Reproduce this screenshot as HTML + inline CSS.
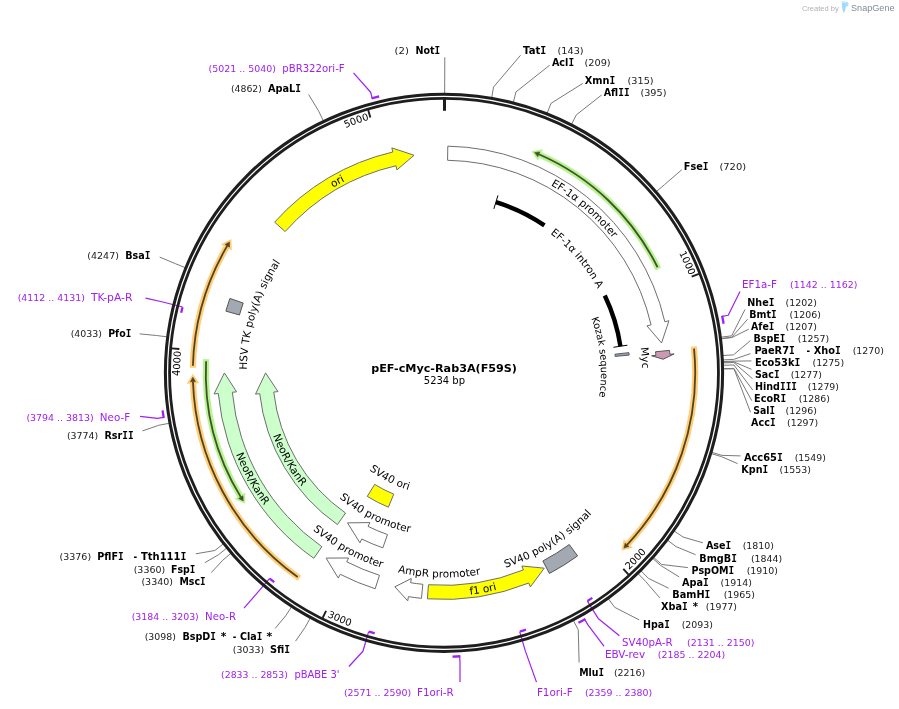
<!DOCTYPE html>
<html><head><meta charset="utf-8"><title>pEF-cMyc-Rab3A(F59S)</title>
<style>html,body{margin:0;padding:0;background:#fff}svg{display:block}</style></head>
<body>
<svg width="899" height="709" viewBox="0 0 899 709">
<rect width="899" height="709" fill="#fff"/>
<path d="M722.25 316.43 L728.23 315.22 L740 291.5" fill="none" stroke="#a020f0" stroke-width="1.2" stroke-linejoin="round"/>
<path d="M587.35 601.13 L598.19 618.41 L619.4 635.7" fill="none" stroke="#a020f0" stroke-width="1.2" stroke-linejoin="round"/>
<path d="M584.72 619.37 L587.74 624.67 L604.1 646.4" fill="none" stroke="#a020f0" stroke-width="1.2" stroke-linejoin="round"/>
<path d="M519.67 631.56 L525.4 651.14 L536.5 682.1" fill="none" stroke="#a020f0" stroke-width="1.2" stroke-linejoin="round"/>
<path d="M459.67 656.27 L460.01 662.36 L460 682" fill="none" stroke="#a020f0" stroke-width="1.2" stroke-linejoin="round"/>
<path d="M368.64 631.65 L362.94 651.24 L348.9 666.5" fill="none" stroke="#a020f0" stroke-width="1.2" stroke-linejoin="round"/>
<path d="M269.61 578.4 L256.41 593.96 L244 608.1" fill="none" stroke="#a020f0" stroke-width="1.2" stroke-linejoin="round"/>
<path d="M163.63 417.43 L157.61 418.39 L140 416.3" fill="none" stroke="#a020f0" stroke-width="1.2" stroke-linejoin="round"/>
<path d="M182.56 306.96 L162.78 301.98 L145.6 298.1" fill="none" stroke="#a020f0" stroke-width="1.2" stroke-linejoin="round"/>
<path d="M372.2 98.13 L370.65 92.23 L353.5 72.9" fill="none" stroke="#a020f0" stroke-width="1.2" stroke-linejoin="round"/>
<path d="M444.67 93.8 L444.7 82.8 L444.8 57.3" fill="none" stroke="#7a7a7a" stroke-width="1" stroke-linejoin="round"/>
<path d="M491.66 97.9 L493.54 87.06 L520.5 55.3" fill="none" stroke="#7a7a7a" stroke-width="1" stroke-linejoin="round"/>
<path d="M513.27 102.54 L516 91.88 L549.7 65.2" fill="none" stroke="#7a7a7a" stroke-width="1" stroke-linejoin="round"/>
<path d="M547.01 113.51 L551.07 103.29 L582.8 83.4" fill="none" stroke="#7a7a7a" stroke-width="1" stroke-linejoin="round"/>
<path d="M571.39 124.58 L576.42 114.8 L601.6 95" fill="none" stroke="#7a7a7a" stroke-width="1" stroke-linejoin="round"/>
<path d="M656.22 191.69 L664.59 184.55 L681.8 169.7" fill="none" stroke="#7a7a7a" stroke-width="1" stroke-linejoin="round"/>
<path d="M720.72 337.23 L731.63 335.82 L745 309.5" fill="none" stroke="#7a7a7a" stroke-width="1" stroke-linejoin="round"/>
<path d="M720.89 338.56 L731.81 337.21 L747.6 319.2" fill="none" stroke="#7a7a7a" stroke-width="1" stroke-linejoin="round"/>
<path d="M720.93 338.89 L731.85 337.55 L748.7 329.2" fill="none" stroke="#7a7a7a" stroke-width="1" stroke-linejoin="round"/>
<path d="M722.47 355.56 L733.45 354.88 L750.4 340.6" fill="none" stroke="#7a7a7a" stroke-width="1" stroke-linejoin="round"/>
<path d="M722.7 359.91 L733.69 359.4 L750.5 353.6" fill="none" stroke="#7a7a7a" stroke-width="1" stroke-linejoin="round"/>
<path d="M722.77 361.58 L733.77 361.14 L751.4 360.9" fill="none" stroke="#7a7a7a" stroke-width="1" stroke-linejoin="round"/>
<path d="M722.8 362.25 L733.79 361.84 L751.5 369.3" fill="none" stroke="#7a7a7a" stroke-width="1" stroke-linejoin="round"/>
<path d="M722.83 362.92 L733.82 362.53 L752.5 378.7" fill="none" stroke="#7a7a7a" stroke-width="1" stroke-linejoin="round"/>
<path d="M722.9 365.27 L733.89 364.97 L752.8 390.1" fill="none" stroke="#7a7a7a" stroke-width="1" stroke-linejoin="round"/>
<path d="M722.97 368.61 L733.97 368.45 L751.8 400.7" fill="none" stroke="#7a7a7a" stroke-width="1" stroke-linejoin="round"/>
<path d="M722.97 368.95 L733.97 368.8 L750.5 412.3" fill="none" stroke="#7a7a7a" stroke-width="1" stroke-linejoin="round"/>
<path d="M711.45 452.24 L722 455.37 L740.5 455.9" fill="none" stroke="#7a7a7a" stroke-width="1" stroke-linejoin="round"/>
<path d="M711.07 453.52 L721.6 456.7 L737.6 463.6" fill="none" stroke="#7a7a7a" stroke-width="1" stroke-linejoin="round"/>
<path d="M673.95 530.8 L683.01 537.03 L702.9 542.8" fill="none" stroke="#7a7a7a" stroke-width="1" stroke-linejoin="round"/>
<path d="M667.31 540.05 L676.11 546.65 L695.6 554.7" fill="none" stroke="#7a7a7a" stroke-width="1" stroke-linejoin="round"/>
<path d="M653.37 557.2 L661.63 564.47 L687.9 567.6" fill="none" stroke="#7a7a7a" stroke-width="1" stroke-linejoin="round"/>
<path d="M652.48 558.21 L660.7 565.52 L679.2 576.9" fill="none" stroke="#7a7a7a" stroke-width="1" stroke-linejoin="round"/>
<path d="M640.75 570.61 L648.51 578.41 L668.6 588.2" fill="none" stroke="#7a7a7a" stroke-width="1" stroke-linejoin="round"/>
<path d="M637.88 573.43 L645.52 581.34 L659.8 597.9" fill="none" stroke="#7a7a7a" stroke-width="1" stroke-linejoin="round"/>
<path d="M608.15 598.4 L614.63 607.29 L639.2 619.9" fill="none" stroke="#7a7a7a" stroke-width="1" stroke-linejoin="round"/>
<path d="M573.18 620.09 L578.27 629.84 L579.1 662.5" fill="none" stroke="#7a7a7a" stroke-width="1" stroke-linejoin="round"/>
<path d="M310.39 617.73 L305.12 627.38 L295.5 641.2" fill="none" stroke="#7a7a7a" stroke-width="1" stroke-linejoin="round"/>
<path d="M291.7 606.57 L285.7 615.78 L275.2 628.4" fill="none" stroke="#7a7a7a" stroke-width="1" stroke-linejoin="round"/>
<path d="M231.13 553.15 L222.73 560.26 L211.2 572.7" fill="none" stroke="#7a7a7a" stroke-width="1" stroke-linejoin="round"/>
<path d="M226.86 547.99 L218.3 554.89 L204.8 562.7" fill="none" stroke="#7a7a7a" stroke-width="1" stroke-linejoin="round"/>
<path d="M223.53 543.78 L214.84 550.52 L195.8 553.8" fill="none" stroke="#7a7a7a" stroke-width="1" stroke-linejoin="round"/>
<path d="M169.6 423.26 L158.78 425.25 L142.5 430.9" fill="none" stroke="#7a7a7a" stroke-width="1" stroke-linejoin="round"/>
<path d="M167.32 336.9 L156.41 335.48 L139.7 333.9" fill="none" stroke="#7a7a7a" stroke-width="1" stroke-linejoin="round"/>
<path d="M185.52 267.77 L175.33 263.63 L159.7 257.1" fill="none" stroke="#7a7a7a" stroke-width="1" stroke-linejoin="round"/>
<path d="M323.51 121.16 L318.76 111.24 L308.6 94.5" fill="none" stroke="#7a7a7a" stroke-width="1" stroke-linejoin="round"/>
<path d="M447.81 146.18A226.65 226.65 0 0 1 664.82 321.72L668.96 320.76L661.56 342.97L646.94 325.85L651.08 324.9A212.55 212.55 0 0 0 447.57 160.28Z" fill="#fff" stroke="#6e6e6e" stroke-width="1" stroke-linejoin="miter"/>
<path d="M495.92 202.12 A178.4 178.4 0 0 1 544.41 225.34" fill="none" stroke="#000" stroke-width="4.4"/>
<path d="M604.77 295.46 A178.4 178.4 0 0 1 620.41 346.24" fill="none" stroke="#000" stroke-width="4.4"/>
<path d="M493.87 208.87 L497.97 195.38" stroke="#000" stroke-width="1"/>
<path d="M613.44 347.29 L627.38 345.19" stroke="#000" stroke-width="1"/>
<path d="M628.95 352.63A186.05 186.05 0 0 1 629.2 355.07L615.17 356.41A171.95 171.95 0 0 0 614.94 354.16Z" fill="#9aa1ab" stroke="#4a4f55" stroke-width="0.9" stroke-linejoin="miter"/>
<path d="M669.54 350.39A226.65 226.65 0 0 1 669.89 354.25L674.13 353.91L663.18 359.23L651.6 355.76L655.84 355.41A212.55 212.55 0 0 0 655.51 351.78Z" fill="#cc99b3" stroke="#555" stroke-width="1" stroke-linejoin="miter"/>
<path d="M693.82 346.47A251.2 251.2 0 0 1 627.08 544.79" fill="none" stroke="#ffce78" stroke-width="6.2"/>
<path d="M632.86 547.83L621.51 550.54L623.62 539.27Z" fill="#ffce78"/>
<path d="M694.03 348.56A251.2 251.2 0 0 1 627.08 544.79" fill="none" stroke="#55421f" stroke-width="1.8"/>
<path d="M628.98 546.57L623.9 548.12L625.19 543.01Z" fill="#55421f" stroke="#55421f" stroke-width="0.5" stroke-linejoin="miter"/>
<path d="M658.45 269.11A238.2 238.2 0 0 0 538.83 154.29" fill="none" stroke="#b6f490" stroke-width="6.2"/>
<path d="M542.94 149.21L531.44 151.23L537.84 160.73Z" fill="#b6f490"/>
<path d="M657.53 267.23A238.2 238.2 0 0 0 538.83 154.29" fill="none" stroke="#41522a" stroke-width="1.8"/>
<path d="M539.87 151.91L534.59 152.5L537.8 156.68Z" fill="#41522a" stroke="#41522a" stroke-width="0.5" stroke-linejoin="miter"/>
<path d="M577.57 555.91A226.65 226.65 0 0 1 549.42 573.44L542.86 560.96A212.55 212.55 0 0 0 569.26 544.52Z" fill="#a3a9b3" stroke="#555" stroke-width="1" stroke-linejoin="miter"/>
<path d="M427.42 598.84A226.65 226.65 0 0 0 528.72 583.02L530.31 586.96L544.27 568.17L521.86 566L523.45 569.94A212.55 212.55 0 0 1 428.45 584.78Z" fill="#ffff00" stroke="#6e6e6e" stroke-width="1" stroke-linejoin="miter"/>
<path d="M421.45 598.33A226.65 226.65 0 0 1 408.42 596.64L407.76 600.84L394.86 586.83L411.3 578.52L410.64 582.72A212.55 212.55 0 0 0 422.86 584.3Z" fill="#fff" stroke="#6e6e6e" stroke-width="1" stroke-linejoin="miter"/>
<path d="M375.18 588.75A226.65 226.65 0 0 1 340.24 574.3L338.29 578.08L326.12 558.08L348.64 557.99L346.69 561.77A212.55 212.55 0 0 0 379.46 575.31Z" fill="#fff" stroke="#6e6e6e" stroke-width="1" stroke-linejoin="miter"/>
<path d="M382.83 547.87A185.45 185.45 0 0 1 361.78 539.03L359.9 542.84L347.52 522.86L369.92 522.58L368.04 526.39A171.35 171.35 0 0 0 387.48 534.56Z" fill="#fff" stroke="#6e6e6e" stroke-width="1" stroke-linejoin="miter"/>
<path d="M388.36 507.19A145.45 145.45 0 0 1 367.26 496.36L374.7 484.38A131.35 131.35 0 0 0 393.75 494.16Z" fill="#ffff00" stroke="#6e6e6e" stroke-width="1" stroke-linejoin="miter"/>
<path d="M313.75 558.28A226.65 226.65 0 0 1 218.3 393.55L214.07 393.94L224.4 372.93L236.57 391.87L232.34 392.26A212.55 212.55 0 0 0 321.85 546.74Z" fill="#ccffcc" stroke="#6e6e6e" stroke-width="1" stroke-linejoin="miter"/>
<path d="M337.42 524.57A185.45 185.45 0 0 1 259.73 393.66L255.5 394.14L265.6 372.91L277.96 391.59L273.74 392.07A171.35 171.35 0 0 0 345.53 513.03Z" fill="#ccffcc" stroke="#6e6e6e" stroke-width="1" stroke-linejoin="miter"/>
<path d="M299.38 578.19A251.2 251.2 0 0 1 192.96 381.77" fill="none" stroke="#ffce78" stroke-width="6.2"/>
<path d="M186.73 383.74L192.8 373.77L199.32 383.2Z" fill="#ffce78"/>
<path d="M297.67 576.98A251.2 251.2 0 0 1 192.96 381.77" fill="none" stroke="#55421f" stroke-width="1.8"/>
<path d="M190.36 381.86L192.84 377.17L195.56 381.68Z" fill="#55421f" stroke="#55421f" stroke-width="0.5" stroke-linejoin="miter"/>
<path d="M206.19 359.13A238.2 238.2 0 0 0 240.82 497.12" fill="none" stroke="#b6f490" stroke-width="6.2"/>
<path d="M234.54 498.92L245.11 503.87L245.33 492.42Z" fill="#b6f490"/>
<path d="M206.08 361.22A238.2 238.2 0 0 0 240.82 497.12" fill="none" stroke="#41522a" stroke-width="1.8"/>
<path d="M238.6 498.48L243.26 501.02L243.04 495.77Z" fill="#41522a" stroke="#41522a" stroke-width="0.5" stroke-linejoin="miter"/>
<path d="M192.85 367.81A251.2 251.2 0 0 1 227.22 245.88" fill="none" stroke="#ffce78" stroke-width="6.2"/>
<path d="M220.91 244.2L231.38 239.04L231.83 250.49Z" fill="#ffce78"/>
<path d="M192.9 365.71A251.2 251.2 0 0 1 227.22 245.88" fill="none" stroke="#55421f" stroke-width="1.8"/>
<path d="M224.98 244.56L229.58 241.93L229.47 247.19Z" fill="#55421f" stroke="#55421f" stroke-width="0.5" stroke-linejoin="miter"/>
<path d="M225.9 311.14A226.65 226.65 0 0 1 229.9 298.43L243.22 303.06A212.55 212.55 0 0 0 239.47 314.98Z" fill="#a3a9b3" stroke="#555" stroke-width="1" stroke-linejoin="miter"/>
<path d="M274.63 222.18A226.65 226.65 0 0 1 392.79 152.01L391.83 147.87L414.04 155.25L396.93 169.89L395.97 165.75A212.55 212.55 0 0 0 285.17 231.55Z" fill="#ffff00" stroke="#6e6e6e" stroke-width="1" stroke-linejoin="miter"/>
<circle cx="444" cy="372.8" r="278.6" fill="none" stroke="#1e1e1e" stroke-width="3.05"/>
<circle cx="444" cy="372.8" r="274.45" fill="none" stroke="#1e1e1e" stroke-width="2.8"/>
<path d="M444.5 98 L444.5 110.8" stroke="#1e1e1e" stroke-width="3"/>
<path d="M698.96 273.81 L691.69 276.63" stroke="#1e1e1e" stroke-width="1.9"/>
<path d="M628.56 574.65 L623.29 568.89" stroke="#1e1e1e" stroke-width="1.9"/>
<path d="M322.64 617.9 L326.1 610.91" stroke="#1e1e1e" stroke-width="1.9"/>
<path d="M171.59 348.37 L179.36 349.07" stroke="#1e1e1e" stroke-width="1.9"/>
<path d="M368.18 110.02 L370.34 117.51" stroke="#1e1e1e" stroke-width="1.9"/>
<path d="M722.11 315.75 A283.9 283.9 0 0 1 723.64 323.82" fill="none" stroke="#a020f0" stroke-width="2.3"/>
<path d="M592.35 597.91 A269.6 269.6 0 0 1 587.52 601.03" fill="none" stroke="#a020f0" stroke-width="2.3"/>
<path d="M585.33 619.02 A283.9 283.9 0 0 1 578.44 622.85" fill="none" stroke="#a020f0" stroke-width="2.3"/>
<path d="M525.98 629.63 A269.6 269.6 0 0 1 519.86 631.51" fill="none" stroke="#a020f0" stroke-width="2.3"/>
<path d="M460.37 656.23 A283.9 283.9 0 0 1 452.5 656.57" fill="none" stroke="#a020f0" stroke-width="2.3"/>
<path d="M374.68 633.34 A269.6 269.6 0 0 1 368.83 631.71" fill="none" stroke="#a020f0" stroke-width="2.3"/>
<path d="M274.18 582.2 A269.6 269.6 0 0 1 269.76 578.53" fill="none" stroke="#a020f0" stroke-width="2.3"/>
<path d="M163.74 418.12 A283.9 283.9 0 0 1 162.59 410.33" fill="none" stroke="#a020f0" stroke-width="2.3"/>
<path d="M181.17 312.75 A269.6 269.6 0 0 1 182.51 307.16" fill="none" stroke="#a020f0" stroke-width="2.3"/>
<path d="M371.52 98.31 A283.9 283.9 0 0 1 379.16 96.4" fill="none" stroke="#a020f0" stroke-width="2.3"/>
<path id="tk1" d="M672.85 241.38A263.9 263.9 0 0 1 689.35 275.62" fill="none"/>
<text font-family="'DejaVu Sans','Liberation Sans',sans-serif" font-size="9.8" fill="#000"><textPath href="#tk1" startOffset="100%" text-anchor="end">1000</textPath></text>
<path id="tk2" d="M629.08 570.07A270.5 270.5 0 0 0 654.47 542.71" fill="none"/>
<text font-family="'DejaVu Sans','Liberation Sans',sans-serif" font-size="9.8" fill="#000"><textPath href="#tk2" startOffset="0%" text-anchor="start">2000</textPath></text>
<path id="tk3" d="M327.09 616.73A270.5 270.5 0 0 0 361.78 630.5" fill="none"/>
<text font-family="'DejaVu Sans','Liberation Sans',sans-serif" font-size="9.8" fill="#000"><textPath href="#tk3" startOffset="0%" text-anchor="start">3000</textPath></text>
<path id="tk4" d="M180.6 389.02A263.9 263.9 0 0 1 181 351.02" fill="none"/>
<text font-family="'DejaVu Sans','Liberation Sans',sans-serif" font-size="9.8" fill="#000"><textPath href="#tk4" startOffset="100%" text-anchor="end">4000</textPath></text>
<path id="tk5" d="M333.54 133.13A263.9 263.9 0 0 1 369.12 119.75" fill="none"/>
<text font-family="'DejaVu Sans','Liberation Sans',sans-serif" font-size="9.8" fill="#000"><textPath href="#tk5" startOffset="100%" text-anchor="end">5000</textPath></text>
<path id="tp6" d="M483.63 160.65A215.82 215.82 0 0 1 647.54 301.04" fill="none" stroke="none"/>
<text font-family="'DejaVu Sans','Liberation Sans',sans-serif" font-size="10.5" font-weight="normal" fill="#000"><textPath href="#tp6" startOffset="50%" text-anchor="middle">EF-1α promoter</textPath></text>
<path id="tp7" d="M502.15 207.54A175.19 175.19 0 0 1 616.19 340.53" fill="none" stroke="none"/>
<text font-family="'DejaVu Sans','Liberation Sans',sans-serif" font-size="10.3" font-weight="normal" fill="#000"><textPath href="#tp7" startOffset="50%" text-anchor="middle">EF-1α intron A</textPath></text>
<path id="tp8" d="M571.38 281.13A156.94 156.94 0 0 1 587.08 437.27" fill="none" stroke="none"/>
<text font-family="'DejaVu Sans','Liberation Sans',sans-serif" font-size="9.9" font-weight="normal" fill="#000"><textPath href="#tp8" startOffset="50%" text-anchor="middle">Kozak sequence</textPath></text>
<path id="tp9" d="M607.75 261.1A198.22 198.22 0 0 1 622.61 458.76" fill="none" stroke="none"/>
<text font-family="'DejaVu Sans','Liberation Sans',sans-serif" font-size="10.5" font-weight="normal" fill="#000"><textPath href="#tp9" startOffset="50%" text-anchor="middle">Myc</textPath></text>
<path id="tp10" d="M450.82 576.97A204.28 204.28 0 0 0 624.23 468.97" fill="none" stroke="none"/>
<text font-family="'DejaVu Sans','Liberation Sans',sans-serif" font-size="10.5" font-weight="normal" fill="#000"><textPath href="#tp10" startOffset="50%" text-anchor="middle">SV40 poly(A) signal</textPath></text>
<path id="tp11" d="M368.26 582.95A223.38 223.38 0 0 0 588.12 543.47" fill="none" stroke="none"/>
<text font-family="'DejaVu Sans','Liberation Sans',sans-serif" font-size="10.5" font-weight="normal" fill="#000"><textPath href="#tp11" startOffset="50%" text-anchor="middle">f1 ori</textPath></text>
<path id="tp12" d="M337.38 547.64A204.78 204.78 0 0 0 542.1 552.55" fill="none" stroke="none"/>
<text font-family="'DejaVu Sans','Liberation Sans',sans-serif" font-size="10.5" font-weight="normal" fill="#000"><textPath href="#tp12" startOffset="50%" text-anchor="middle">AmpR promoter</textPath></text>
<path id="tp13" d="M268.93 479.03A204.78 204.78 0 0 0 448.47 577.53" fill="none" stroke="none"/>
<text font-family="'DejaVu Sans','Liberation Sans',sans-serif" font-size="10.5" font-weight="normal" fill="#000"><textPath href="#tp13" startOffset="50%" text-anchor="middle">SV40 promoter</textPath></text>
<path id="tp14" d="M308.64 464.11A163.28 163.28 0 0 0 455.39 535.68" fill="none" stroke="none"/>
<text font-family="'DejaVu Sans','Liberation Sans',sans-serif" font-size="10.5" font-weight="normal" fill="#000"><textPath href="#tp14" startOffset="50%" text-anchor="middle">SV40 promoter</textPath></text>
<path id="tp15" d="M341.08 439.2A122.48 122.48 0 0 0 450.05 495.13" fill="none" stroke="none"/>
<text font-family="'DejaVu Sans','Liberation Sans',sans-serif" font-size="10.5" font-weight="normal" fill="#000"><textPath href="#tp15" startOffset="50%" text-anchor="middle">SV40 ori</textPath></text>
<path id="tp16" d="M220.66 368.6A223.38 223.38 0 0 0 328.69 564.12" fill="none" stroke="none"/>
<text font-family="'DejaVu Sans','Liberation Sans',sans-serif" font-size="10.5" font-weight="normal" fill="#000"><textPath href="#tp16" startOffset="50%" text-anchor="middle">NeoR/KanR</textPath></text>
<path id="tp17" d="M261.83 370.9A182.18 182.18 0 0 0 351.27 529.62" fill="none" stroke="none"/>
<text font-family="'DejaVu Sans','Liberation Sans',sans-serif" font-size="10.5" font-weight="normal" fill="#000"><textPath href="#tp17" startOffset="50%" text-anchor="middle">NeoR/KanR</textPath></text>
<path id="tp18" d="M251.5 415.7A197.22 197.22 0 0 1 310.6 227.54" fill="none" stroke="none"/>
<text font-family="'DejaVu Sans','Liberation Sans',sans-serif" font-size="10.5" font-weight="normal" fill="#000"><textPath href="#tp18" startOffset="50%" text-anchor="middle">HSV TK poly(A) signal</textPath></text>
<path id="tp19" d="M258.69 262.17A215.82 215.82 0 0 1 447.15 157" fill="none" stroke="none"/>
<text font-family="'DejaVu Sans','Liberation Sans',sans-serif" font-size="10.5" font-weight="normal" fill="#000"><textPath href="#tp19" startOffset="50%" text-anchor="middle">ori</textPath></text>
<text x="394.6" y="53.9" font-family="'DejaVu Sans','Liberation Sans',sans-serif" font-size="8.9" font-weight="normal" fill="#1a1a1a" textLength="14.4" lengthAdjust="spacingAndGlyphs">(2)</text>
<text x="415.4" y="53.9" font-family="'DejaVu Sans','Liberation Sans',sans-serif" font-size="10.2" font-weight="bold" fill="#000" textLength="24.8" lengthAdjust="spacingAndGlyphs">Not<tspan font-family="'DejaVu Sans Mono','Liberation Mono',monospace" font-size="10">I</tspan></text>
<text x="523.1" y="53.9" font-family="'DejaVu Sans','Liberation Sans',sans-serif" font-size="10.2" font-weight="bold" fill="#000" textLength="23.2" lengthAdjust="spacingAndGlyphs">Tat<tspan font-family="'DejaVu Sans Mono','Liberation Mono',monospace" font-size="10">I</tspan></text>
<text x="557.5" y="53.9" font-family="'DejaVu Sans','Liberation Sans',sans-serif" font-size="8.9" font-weight="normal" fill="#1a1a1a" textLength="26.1" lengthAdjust="spacingAndGlyphs">(143)</text>
<text x="551.9" y="66" font-family="'DejaVu Sans','Liberation Sans',sans-serif" font-size="10.2" font-weight="bold" fill="#000" textLength="22.2" lengthAdjust="spacingAndGlyphs">Acl<tspan font-family="'DejaVu Sans Mono','Liberation Mono',monospace" font-size="10">I</tspan></text>
<text x="584.4" y="66" font-family="'DejaVu Sans','Liberation Sans',sans-serif" font-size="8.9" font-weight="normal" fill="#1a1a1a" textLength="26.3" lengthAdjust="spacingAndGlyphs">(209)</text>
<text x="584.8" y="84" font-family="'DejaVu Sans','Liberation Sans',sans-serif" font-size="10.2" font-weight="bold" fill="#000" textLength="30.6" lengthAdjust="spacingAndGlyphs">Xmn<tspan font-family="'DejaVu Sans Mono','Liberation Mono',monospace" font-size="10">I</tspan></text>
<text x="627.5" y="84" font-family="'DejaVu Sans','Liberation Sans',sans-serif" font-size="8.9" font-weight="normal" fill="#1a1a1a" textLength="26.1" lengthAdjust="spacingAndGlyphs">(315)</text>
<text x="603.7" y="96" font-family="'DejaVu Sans','Liberation Sans',sans-serif" font-size="10.2" font-weight="bold" fill="#000" textLength="25.9" lengthAdjust="spacingAndGlyphs">Afl<tspan font-family="'DejaVu Sans Mono','Liberation Mono',monospace" font-size="10">I</tspan><tspan font-family="'DejaVu Sans Mono','Liberation Mono',monospace" font-size="10">I</tspan></text>
<text x="640.4" y="96" font-family="'DejaVu Sans','Liberation Sans',sans-serif" font-size="8.9" font-weight="normal" fill="#1a1a1a" textLength="26.1" lengthAdjust="spacingAndGlyphs">(395)</text>
<text x="683.8" y="169.8" font-family="'DejaVu Sans','Liberation Sans',sans-serif" font-size="10.2" font-weight="bold" fill="#000" textLength="24.8" lengthAdjust="spacingAndGlyphs">Fse<tspan font-family="'DejaVu Sans Mono','Liberation Mono',monospace" font-size="10">I</tspan></text>
<text x="719.4" y="169.8" font-family="'DejaVu Sans','Liberation Sans',sans-serif" font-size="8.9" font-weight="normal" fill="#1a1a1a" textLength="26.8" lengthAdjust="spacingAndGlyphs">(720)</text>
<text x="742" y="287.9" font-family="'DejaVu Sans Condensed','DejaVu Sans','Liberation Sans',sans-serif" font-size="10.6" font-weight="normal" fill="#a020f0" textLength="34.8" lengthAdjust="spacingAndGlyphs">EF1a-F</text>
<text x="790" y="287.9" font-family="'DejaVu Sans','Liberation Sans',sans-serif" font-size="8.9" font-weight="normal" fill="#a020f0" textLength="67.4" lengthAdjust="spacingAndGlyphs">(1142 .. 1162)</text>
<text x="747.3" y="305.6" font-family="'DejaVu Sans','Liberation Sans',sans-serif" font-size="10.2" font-weight="bold" fill="#000" textLength="27.1" lengthAdjust="spacingAndGlyphs">Nhe<tspan font-family="'DejaVu Sans Mono','Liberation Mono',monospace" font-size="10">I</tspan></text>
<text x="785.6" y="305.6" font-family="'DejaVu Sans','Liberation Sans',sans-serif" font-size="8.9" font-weight="normal" fill="#1a1a1a" textLength="31.3" lengthAdjust="spacingAndGlyphs">(1202)</text>
<text x="749.3" y="317.6" font-family="'DejaVu Sans','Liberation Sans',sans-serif" font-size="10.2" font-weight="bold" fill="#000" textLength="27.4" lengthAdjust="spacingAndGlyphs">Bmt<tspan font-family="'DejaVu Sans Mono','Liberation Mono',monospace" font-size="10">I</tspan></text>
<text x="789.6" y="317.6" font-family="'DejaVu Sans','Liberation Sans',sans-serif" font-size="8.9" font-weight="normal" fill="#1a1a1a" textLength="31.3" lengthAdjust="spacingAndGlyphs">(1206)</text>
<text x="751.1" y="329.7" font-family="'DejaVu Sans','Liberation Sans',sans-serif" font-size="10.2" font-weight="bold" fill="#000" textLength="23.3" lengthAdjust="spacingAndGlyphs">Afe<tspan font-family="'DejaVu Sans Mono','Liberation Mono',monospace" font-size="10">I</tspan></text>
<text x="785.6" y="329.7" font-family="'DejaVu Sans','Liberation Sans',sans-serif" font-size="8.9" font-weight="normal" fill="#1a1a1a" textLength="31.3" lengthAdjust="spacingAndGlyphs">(1207)</text>
<text x="753.5" y="341.7" font-family="'DejaVu Sans','Liberation Sans',sans-serif" font-size="10.2" font-weight="bold" fill="#000" textLength="32" lengthAdjust="spacingAndGlyphs">BspE<tspan font-family="'DejaVu Sans Mono','Liberation Mono',monospace" font-size="10">I</tspan></text>
<text x="797.8" y="341.7" font-family="'DejaVu Sans','Liberation Sans',sans-serif" font-size="8.9" font-weight="normal" fill="#1a1a1a" textLength="31.3" lengthAdjust="spacingAndGlyphs">(1257)</text>
<text x="754.4" y="353.7" font-family="'DejaVu Sans','Liberation Sans',sans-serif" font-size="10.2" font-weight="bold" fill="#000" textLength="40.4" lengthAdjust="spacingAndGlyphs">PaeR7<tspan font-family="'DejaVu Sans Mono','Liberation Mono',monospace" font-size="10">I</tspan></text>
<text x="806.6" y="353.7" font-family="'DejaVu Sans','Liberation Sans',sans-serif" font-size="10.2" font-weight="bold" fill="#000" textLength="3.6" lengthAdjust="spacingAndGlyphs">-</text>
<text x="813.7" y="353.7" font-family="'DejaVu Sans','Liberation Sans',sans-serif" font-size="10.2" font-weight="bold" fill="#000" textLength="27.1" lengthAdjust="spacingAndGlyphs">Xho<tspan font-family="'DejaVu Sans Mono','Liberation Mono',monospace" font-size="10">I</tspan></text>
<text x="852.7" y="353.7" font-family="'DejaVu Sans','Liberation Sans',sans-serif" font-size="8.9" font-weight="normal" fill="#1a1a1a" textLength="31.3" lengthAdjust="spacingAndGlyphs">(1270)</text>
<text x="755" y="365.8" font-family="'DejaVu Sans','Liberation Sans',sans-serif" font-size="10.2" font-weight="bold" fill="#000" textLength="45.3" lengthAdjust="spacingAndGlyphs">Eco53k<tspan font-family="'DejaVu Sans Mono','Liberation Mono',monospace" font-size="10">I</tspan></text>
<text x="812.6" y="365.8" font-family="'DejaVu Sans','Liberation Sans',sans-serif" font-size="8.9" font-weight="normal" fill="#1a1a1a" textLength="31.5" lengthAdjust="spacingAndGlyphs">(1275)</text>
<text x="755" y="377.8" font-family="'DejaVu Sans','Liberation Sans',sans-serif" font-size="10.2" font-weight="bold" fill="#000" textLength="24.5" lengthAdjust="spacingAndGlyphs">Sac<tspan font-family="'DejaVu Sans Mono','Liberation Mono',monospace" font-size="10">I</tspan></text>
<text x="790.7" y="377.8" font-family="'DejaVu Sans','Liberation Sans',sans-serif" font-size="8.9" font-weight="normal" fill="#1a1a1a" textLength="31.3" lengthAdjust="spacingAndGlyphs">(1277)</text>
<text x="755" y="389.8" font-family="'DejaVu Sans','Liberation Sans',sans-serif" font-size="10.2" font-weight="bold" fill="#000" textLength="42" lengthAdjust="spacingAndGlyphs">Hind<tspan font-family="'DejaVu Sans Mono','Liberation Mono',monospace" font-size="10">I</tspan><tspan font-family="'DejaVu Sans Mono','Liberation Mono',monospace" font-size="10">I</tspan><tspan font-family="'DejaVu Sans Mono','Liberation Mono',monospace" font-size="10">I</tspan></text>
<text x="807.8" y="389.8" font-family="'DejaVu Sans','Liberation Sans',sans-serif" font-size="8.9" font-weight="normal" fill="#1a1a1a" textLength="31.2" lengthAdjust="spacingAndGlyphs">(1279)</text>
<text x="754.1" y="401.9" font-family="'DejaVu Sans','Liberation Sans',sans-serif" font-size="10.2" font-weight="bold" fill="#000" textLength="32.1" lengthAdjust="spacingAndGlyphs">EcoR<tspan font-family="'DejaVu Sans Mono','Liberation Mono',monospace" font-size="10">I</tspan></text>
<text x="798.7" y="401.9" font-family="'DejaVu Sans','Liberation Sans',sans-serif" font-size="8.9" font-weight="normal" fill="#1a1a1a" textLength="31.2" lengthAdjust="spacingAndGlyphs">(1286)</text>
<text x="753.3" y="413.9" font-family="'DejaVu Sans','Liberation Sans',sans-serif" font-size="10.2" font-weight="bold" fill="#000" textLength="21.8" lengthAdjust="spacingAndGlyphs">Sal<tspan font-family="'DejaVu Sans Mono','Liberation Mono',monospace" font-size="10">I</tspan></text>
<text x="785.6" y="413.9" font-family="'DejaVu Sans','Liberation Sans',sans-serif" font-size="8.9" font-weight="normal" fill="#1a1a1a" textLength="31.3" lengthAdjust="spacingAndGlyphs">(1296)</text>
<text x="751.1" y="426" font-family="'DejaVu Sans','Liberation Sans',sans-serif" font-size="10.2" font-weight="bold" fill="#000" textLength="24.5" lengthAdjust="spacingAndGlyphs">Acc<tspan font-family="'DejaVu Sans Mono','Liberation Mono',monospace" font-size="10">I</tspan></text>
<text x="787" y="426" font-family="'DejaVu Sans','Liberation Sans',sans-serif" font-size="8.9" font-weight="normal" fill="#1a1a1a" textLength="31.2" lengthAdjust="spacingAndGlyphs">(1297)</text>
<text x="743.9" y="461" font-family="'DejaVu Sans','Liberation Sans',sans-serif" font-size="10.2" font-weight="bold" fill="#000" textLength="38.9" lengthAdjust="spacingAndGlyphs">Acc65<tspan font-family="'DejaVu Sans Mono','Liberation Mono',monospace" font-size="10">I</tspan></text>
<text x="794.7" y="461" font-family="'DejaVu Sans','Liberation Sans',sans-serif" font-size="8.9" font-weight="normal" fill="#1a1a1a" textLength="31.2" lengthAdjust="spacingAndGlyphs">(1549)</text>
<text x="741.3" y="473.1" font-family="'DejaVu Sans','Liberation Sans',sans-serif" font-size="10.2" font-weight="bold" fill="#000" textLength="26.9" lengthAdjust="spacingAndGlyphs">Kpn<tspan font-family="'DejaVu Sans Mono','Liberation Mono',monospace" font-size="10">I</tspan></text>
<text x="779.6" y="473.1" font-family="'DejaVu Sans','Liberation Sans',sans-serif" font-size="8.9" font-weight="normal" fill="#1a1a1a" textLength="31.3" lengthAdjust="spacingAndGlyphs">(1553)</text>
<text x="705.9" y="549.4" font-family="'DejaVu Sans','Liberation Sans',sans-serif" font-size="10.2" font-weight="bold" fill="#000" textLength="25.4" lengthAdjust="spacingAndGlyphs">Ase<tspan font-family="'DejaVu Sans Mono','Liberation Mono',monospace" font-size="10">I</tspan></text>
<text x="742.7" y="549.4" font-family="'DejaVu Sans','Liberation Sans',sans-serif" font-size="8.9" font-weight="normal" fill="#1a1a1a" textLength="31.3" lengthAdjust="spacingAndGlyphs">(1810)</text>
<text x="699.3" y="561.5" font-family="'DejaVu Sans','Liberation Sans',sans-serif" font-size="10.2" font-weight="bold" fill="#000" textLength="37.6" lengthAdjust="spacingAndGlyphs">BmgB<tspan font-family="'DejaVu Sans Mono','Liberation Mono',monospace" font-size="10">I</tspan></text>
<text x="750.9" y="561.5" font-family="'DejaVu Sans','Liberation Sans',sans-serif" font-size="8.9" font-weight="normal" fill="#1a1a1a" textLength="31.3" lengthAdjust="spacingAndGlyphs">(1844)</text>
<text x="691.6" y="573.6" font-family="'DejaVu Sans','Liberation Sans',sans-serif" font-size="10.2" font-weight="bold" fill="#000" textLength="42.6" lengthAdjust="spacingAndGlyphs">PspOM<tspan font-family="'DejaVu Sans Mono','Liberation Mono',monospace" font-size="10">I</tspan></text>
<text x="746.7" y="573.6" font-family="'DejaVu Sans','Liberation Sans',sans-serif" font-size="8.9" font-weight="normal" fill="#1a1a1a" textLength="31.3" lengthAdjust="spacingAndGlyphs">(1910)</text>
<text x="682" y="585.6" font-family="'DejaVu Sans','Liberation Sans',sans-serif" font-size="10.2" font-weight="bold" fill="#000" textLength="26.8" lengthAdjust="spacingAndGlyphs">Apa<tspan font-family="'DejaVu Sans Mono','Liberation Mono',monospace" font-size="10">I</tspan></text>
<text x="720.6" y="585.6" font-family="'DejaVu Sans','Liberation Sans',sans-serif" font-size="8.9" font-weight="normal" fill="#1a1a1a" textLength="31.3" lengthAdjust="spacingAndGlyphs">(1914)</text>
<text x="672.3" y="597.7" font-family="'DejaVu Sans','Liberation Sans',sans-serif" font-size="10.2" font-weight="bold" fill="#000" textLength="38" lengthAdjust="spacingAndGlyphs">BamH<tspan font-family="'DejaVu Sans Mono','Liberation Mono',monospace" font-size="10">I</tspan></text>
<text x="723.7" y="597.7" font-family="'DejaVu Sans','Liberation Sans',sans-serif" font-size="8.9" font-weight="normal" fill="#1a1a1a" textLength="31.3" lengthAdjust="spacingAndGlyphs">(1965)</text>
<text x="661" y="609.7" font-family="'DejaVu Sans','Liberation Sans',sans-serif" font-size="10.2" font-weight="bold" fill="#000" textLength="26.7" lengthAdjust="spacingAndGlyphs">Xba<tspan font-family="'DejaVu Sans Mono','Liberation Mono',monospace" font-size="10">I</tspan></text>
<text x="692.7" y="609.7" font-family="'DejaVu Sans','Liberation Sans',sans-serif" font-size="10.2" font-weight="bold" fill="#000" textLength="5.3" lengthAdjust="spacingAndGlyphs">*</text>
<text x="705.8" y="609.7" font-family="'DejaVu Sans','Liberation Sans',sans-serif" font-size="8.9" font-weight="normal" fill="#1a1a1a" textLength="31.2" lengthAdjust="spacingAndGlyphs">(1977)</text>
<text x="643.1" y="628.1" font-family="'DejaVu Sans','Liberation Sans',sans-serif" font-size="10.2" font-weight="bold" fill="#000" textLength="26.8" lengthAdjust="spacingAndGlyphs">Hpa<tspan font-family="'DejaVu Sans Mono','Liberation Mono',monospace" font-size="10">I</tspan></text>
<text x="681.7" y="628.1" font-family="'DejaVu Sans','Liberation Sans',sans-serif" font-size="8.9" font-weight="normal" fill="#1a1a1a" textLength="31.3" lengthAdjust="spacingAndGlyphs">(2093)</text>
<text x="621.9" y="645.8" font-family="'DejaVu Sans Condensed','DejaVu Sans','Liberation Sans',sans-serif" font-size="10.6" font-weight="normal" fill="#a020f0" textLength="50.7" lengthAdjust="spacingAndGlyphs">SV40pA-R</text>
<text x="687" y="645.8" font-family="'DejaVu Sans','Liberation Sans',sans-serif" font-size="8.9" font-weight="normal" fill="#a020f0" textLength="67.4" lengthAdjust="spacingAndGlyphs">(2131 .. 2150)</text>
<text x="604.9" y="657.8" font-family="'DejaVu Sans Condensed','DejaVu Sans','Liberation Sans',sans-serif" font-size="10.6" font-weight="normal" fill="#a020f0" textLength="40.2" lengthAdjust="spacingAndGlyphs">EBV-rev</text>
<text x="657.8" y="657.8" font-family="'DejaVu Sans','Liberation Sans',sans-serif" font-size="8.9" font-weight="normal" fill="#a020f0" textLength="67.4" lengthAdjust="spacingAndGlyphs">(2185 .. 2204)</text>
<text x="579.2" y="675.7" font-family="'DejaVu Sans','Liberation Sans',sans-serif" font-size="10.2" font-weight="bold" fill="#000" textLength="24.9" lengthAdjust="spacingAndGlyphs">Mlu<tspan font-family="'DejaVu Sans Mono','Liberation Mono',monospace" font-size="10">I</tspan></text>
<text x="613.9" y="675.7" font-family="'DejaVu Sans','Liberation Sans',sans-serif" font-size="8.9" font-weight="normal" fill="#1a1a1a" textLength="31.4" lengthAdjust="spacingAndGlyphs">(2216)</text>
<text x="536.9" y="695.6" font-family="'DejaVu Sans Condensed','DejaVu Sans','Liberation Sans',sans-serif" font-size="10.6" font-weight="normal" fill="#a020f0" textLength="35.8" lengthAdjust="spacingAndGlyphs">F1ori-F</text>
<text x="584.9" y="695.6" font-family="'DejaVu Sans','Liberation Sans',sans-serif" font-size="8.9" font-weight="normal" fill="#a020f0" textLength="67.3" lengthAdjust="spacingAndGlyphs">(2359 .. 2380)</text>
<text x="343.9" y="695.6" font-family="'DejaVu Sans','Liberation Sans',sans-serif" font-size="8.9" font-weight="normal" fill="#a020f0" textLength="67.2" lengthAdjust="spacingAndGlyphs">(2571 .. 2590)</text>
<text x="417.1" y="695.6" font-family="'DejaVu Sans Condensed','DejaVu Sans','Liberation Sans',sans-serif" font-size="10.6" font-weight="normal" fill="#a020f0" textLength="36.6" lengthAdjust="spacingAndGlyphs">F1ori-R</text>
<text x="221.1" y="677.6" font-family="'DejaVu Sans','Liberation Sans',sans-serif" font-size="8.9" font-weight="normal" fill="#a020f0" textLength="66.7" lengthAdjust="spacingAndGlyphs">(2833 .. 2853)</text>
<text x="294.4" y="677.6" font-family="'DejaVu Sans Condensed','DejaVu Sans','Liberation Sans',sans-serif" font-size="10.6" font-weight="normal" fill="#a020f0" textLength="45.1" lengthAdjust="spacingAndGlyphs">pBABE 3'</text>
<text x="232.8" y="652.8" font-family="'DejaVu Sans','Liberation Sans',sans-serif" font-size="8.9" font-weight="normal" fill="#1a1a1a" textLength="31.3" lengthAdjust="spacingAndGlyphs">(3033)</text>
<text x="270" y="652.8" font-family="'DejaVu Sans','Liberation Sans',sans-serif" font-size="10.2" font-weight="bold" fill="#000" textLength="20.1" lengthAdjust="spacingAndGlyphs">Sfi<tspan font-family="'DejaVu Sans Mono','Liberation Mono',monospace" font-size="10">I</tspan></text>
<text x="144.7" y="639.6" font-family="'DejaVu Sans','Liberation Sans',sans-serif" font-size="8.9" font-weight="normal" fill="#1a1a1a" textLength="31.3" lengthAdjust="spacingAndGlyphs">(3098)</text>
<text x="182.4" y="639.6" font-family="'DejaVu Sans','Liberation Sans',sans-serif" font-size="10.2" font-weight="bold" fill="#000" textLength="33.6" lengthAdjust="spacingAndGlyphs">BspD<tspan font-family="'DejaVu Sans Mono','Liberation Mono',monospace" font-size="10">I</tspan></text>
<text x="220.7" y="639.6" font-family="'DejaVu Sans','Liberation Sans',sans-serif" font-size="10.2" font-weight="bold" fill="#000" textLength="5.6" lengthAdjust="spacingAndGlyphs">*</text>
<text x="232.7" y="639.6" font-family="'DejaVu Sans','Liberation Sans',sans-serif" font-size="10.2" font-weight="bold" fill="#000" textLength="3.6" lengthAdjust="spacingAndGlyphs">-</text>
<text x="240" y="639.6" font-family="'DejaVu Sans','Liberation Sans',sans-serif" font-size="10.2" font-weight="bold" fill="#000" textLength="22.3" lengthAdjust="spacingAndGlyphs">Cla<tspan font-family="'DejaVu Sans Mono','Liberation Mono',monospace" font-size="10">I</tspan></text>
<text x="266.5" y="639.6" font-family="'DejaVu Sans','Liberation Sans',sans-serif" font-size="10.2" font-weight="bold" fill="#000" textLength="5.7" lengthAdjust="spacingAndGlyphs">*</text>
<text x="131.7" y="619.7" font-family="'DejaVu Sans','Liberation Sans',sans-serif" font-size="8.9" font-weight="normal" fill="#a020f0" textLength="67.1" lengthAdjust="spacingAndGlyphs">(3184 .. 3203)</text>
<text x="205.1" y="619.7" font-family="'DejaVu Sans Condensed','DejaVu Sans','Liberation Sans',sans-serif" font-size="10.6" font-weight="normal" fill="#a020f0" textLength="30.9" lengthAdjust="spacingAndGlyphs">Neo-R</text>
<text x="141.4" y="584.5" font-family="'DejaVu Sans','Liberation Sans',sans-serif" font-size="8.9" font-weight="normal" fill="#1a1a1a" textLength="31.6" lengthAdjust="spacingAndGlyphs">(3340)</text>
<text x="179.4" y="584.5" font-family="'DejaVu Sans','Liberation Sans',sans-serif" font-size="10.2" font-weight="bold" fill="#000" textLength="26.2" lengthAdjust="spacingAndGlyphs">Msc<tspan font-family="'DejaVu Sans Mono','Liberation Mono',monospace" font-size="10">I</tspan></text>
<text x="133.7" y="572.5" font-family="'DejaVu Sans','Liberation Sans',sans-serif" font-size="8.9" font-weight="normal" fill="#1a1a1a" textLength="31.4" lengthAdjust="spacingAndGlyphs">(3360)</text>
<text x="171" y="572.5" font-family="'DejaVu Sans','Liberation Sans',sans-serif" font-size="10.2" font-weight="bold" fill="#000" textLength="24.3" lengthAdjust="spacingAndGlyphs">Fsp<tspan font-family="'DejaVu Sans Mono','Liberation Mono',monospace" font-size="10">I</tspan></text>
<text x="59.5" y="560.3" font-family="'DejaVu Sans','Liberation Sans',sans-serif" font-size="8.9" font-weight="normal" fill="#1a1a1a" textLength="31.6" lengthAdjust="spacingAndGlyphs">(3376)</text>
<text x="97.3" y="560.3" font-family="'DejaVu Sans','Liberation Sans',sans-serif" font-size="10.2" font-weight="bold" fill="#000" textLength="26.4" lengthAdjust="spacingAndGlyphs">PflF<tspan font-family="'DejaVu Sans Mono','Liberation Mono',monospace" font-size="10">I</tspan></text>
<text x="133.6" y="560.3" font-family="'DejaVu Sans','Liberation Sans',sans-serif" font-size="10.2" font-weight="bold" fill="#000" textLength="3.7" lengthAdjust="spacingAndGlyphs">-</text>
<text x="141" y="560.3" font-family="'DejaVu Sans','Liberation Sans',sans-serif" font-size="10.2" font-weight="bold" fill="#000" textLength="45.4" lengthAdjust="spacingAndGlyphs">Tth111<tspan font-family="'DejaVu Sans Mono','Liberation Mono',monospace" font-size="10">I</tspan></text>
<text x="66.9" y="438.6" font-family="'DejaVu Sans','Liberation Sans',sans-serif" font-size="8.9" font-weight="normal" fill="#1a1a1a" textLength="31.3" lengthAdjust="spacingAndGlyphs">(3774)</text>
<text x="104.4" y="438.6" font-family="'DejaVu Sans','Liberation Sans',sans-serif" font-size="10.2" font-weight="bold" fill="#000" textLength="29.2" lengthAdjust="spacingAndGlyphs">Rsr<tspan font-family="'DejaVu Sans Mono','Liberation Mono',monospace" font-size="10">I</tspan><tspan font-family="'DejaVu Sans Mono','Liberation Mono',monospace" font-size="10">I</tspan></text>
<text x="26.4" y="420.7" font-family="'DejaVu Sans','Liberation Sans',sans-serif" font-size="8.9" font-weight="normal" fill="#a020f0" textLength="67.4" lengthAdjust="spacingAndGlyphs">(3794 .. 3813)</text>
<text x="99.8" y="420.7" font-family="'DejaVu Sans Condensed','DejaVu Sans','Liberation Sans',sans-serif" font-size="10.6" font-weight="normal" fill="#a020f0" textLength="30.3" lengthAdjust="spacingAndGlyphs">Neo-F</text>
<text x="70.7" y="336.7" font-family="'DejaVu Sans','Liberation Sans',sans-serif" font-size="8.9" font-weight="normal" fill="#1a1a1a" textLength="31.3" lengthAdjust="spacingAndGlyphs">(4033)</text>
<text x="108.2" y="336.7" font-family="'DejaVu Sans','Liberation Sans',sans-serif" font-size="10.2" font-weight="bold" fill="#000" textLength="23.1" lengthAdjust="spacingAndGlyphs">Pfo<tspan font-family="'DejaVu Sans Mono','Liberation Mono',monospace" font-size="10">I</tspan></text>
<text x="17.7" y="300.6" font-family="'DejaVu Sans','Liberation Sans',sans-serif" font-size="8.9" font-weight="normal" fill="#a020f0" textLength="67.2" lengthAdjust="spacingAndGlyphs">(4112 .. 4131)</text>
<text x="90.9" y="300.6" font-family="'DejaVu Sans Condensed','DejaVu Sans','Liberation Sans',sans-serif" font-size="10.6" font-weight="normal" fill="#a020f0" textLength="41.5" lengthAdjust="spacingAndGlyphs">TK-pA-R</text>
<text x="87.3" y="258.7" font-family="'DejaVu Sans','Liberation Sans',sans-serif" font-size="8.9" font-weight="normal" fill="#1a1a1a" textLength="31.6" lengthAdjust="spacingAndGlyphs">(4247)</text>
<text x="125.3" y="258.7" font-family="'DejaVu Sans','Liberation Sans',sans-serif" font-size="10.2" font-weight="bold" fill="#000" textLength="25.2" lengthAdjust="spacingAndGlyphs">Bsa<tspan font-family="'DejaVu Sans Mono','Liberation Mono',monospace" font-size="10">I</tspan></text>
<text x="230.9" y="91.6" font-family="'DejaVu Sans','Liberation Sans',sans-serif" font-size="8.9" font-weight="normal" fill="#1a1a1a" textLength="31" lengthAdjust="spacingAndGlyphs">(4862)</text>
<text x="268" y="91.6" font-family="'DejaVu Sans','Liberation Sans',sans-serif" font-size="10.2" font-weight="bold" fill="#000" textLength="33.1" lengthAdjust="spacingAndGlyphs">ApaL<tspan font-family="'DejaVu Sans Mono','Liberation Mono',monospace" font-size="10">I</tspan></text>
<text x="208.6" y="71.6" font-family="'DejaVu Sans','Liberation Sans',sans-serif" font-size="8.9" font-weight="normal" fill="#a020f0" textLength="67.3" lengthAdjust="spacingAndGlyphs">(5021 .. 5040)</text>
<text x="282.3" y="71.6" font-family="'DejaVu Sans Condensed','DejaVu Sans','Liberation Sans',sans-serif" font-size="10.6" font-weight="normal" fill="#a020f0" textLength="62.3" lengthAdjust="spacingAndGlyphs">pBR322ori-F</text>
<text x="371.2" y="371.7" font-family="'DejaVu Sans','Liberation Sans',sans-serif" font-size="11" font-weight="bold" fill="#000" textLength="145.8" lengthAdjust="spacingAndGlyphs">pEF-cMyc-Rab3A(F59S)</text>
<text x="423.8" y="383.5" font-family="'DejaVu Sans','Liberation Sans',sans-serif" font-size="9.8" font-weight="normal" fill="#000" textLength="41.2" lengthAdjust="spacingAndGlyphs">5234 bp</text>
<text x="801.9" y="10.6" font-family="'Liberation Sans',sans-serif" font-size="8.1" fill="#b2b2b2" textLength="36.9" lengthAdjust="spacingAndGlyphs">Created by</text>
<rect x="841.1" y="1.2" width="4.6" height="1.6" fill="#cdeefc"/>
<path d="M842 2.7 L845.95 2.7 L845.95 6.8 L845 10.8 L843.7 12.9 L842.75 10.8 L842 6.8 Z" fill="#9ddbfa"/>
<path d="M845.9 2.1 L847 2.1 Q848.7 2.6 848.6 4.4 Q848.5 6.2 846.9 6.6 L845.9 6.6 Z" fill="#a8e0fb"/>
<text x="851" y="10.85" font-family="'Liberation Sans',sans-serif" font-size="9.7" fill="#7d8b99" textLength="43.5" lengthAdjust="spacingAndGlyphs">SnapGene</text>
</svg>
</body></html>
